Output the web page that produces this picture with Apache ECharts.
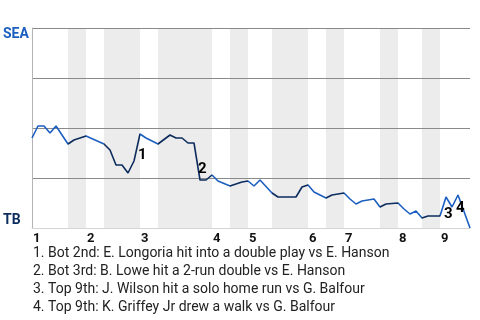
<!DOCTYPE html>
<html>
<head>
<meta charset="utf-8">
<script src="https://cdn.jsdelivr.net/npm/echarts@6/dist/echarts.min.js"></script>
<style>
  html, body { margin: 0; padding: 0; background: #fff; }
  #chart { width: 480px; height: 320px; }
</style>
</head>
<body>
<div id="chart"></div>
<script>
// plate appearance index and Seattle win probability after it
const paIndex = [0, 1, 2, 3, 4, 6, 7, 9, 12, 13, 14, 15, 16, 17, 18, 19, 21, 23, 24, 25, 26, 27, 28, 29, 30,
  31, 33, 35, 36, 37, 38, 40, 41, 44, 45, 46, 47, 49, 50, 52, 53, 54, 55, 57, 58, 59, 61, 62, 63, 64, 65, 66,
  68, 69, 70, 71, 73]
const seaWinProb = [0.45, 0.51, 0.51, 0.475, 0.51, 0.42, 0.44, 0.46, 0.42, 0.39, 0.315, 0.315, 0.275, 0.335,
  0.47, 0.45, 0.42, 0.465, 0.45, 0.45, 0.425, 0.425, 0.24, 0.24, 0.265, 0.235, 0.21, 0.23, 0.235, 0.21, 0.24,
  0.175, 0.155, 0.155, 0.205, 0.215, 0.18, 0.15, 0.165, 0.175, 0.145, 0.12, 0.135, 0.145, 0.105, 0.12, 0.125,
  0.095, 0.07, 0.085, 0.05, 0.06, 0.06, 0.155, 0.105, 0.165, 0]

// innings
const inningStart = [0, 9, 18, 30, 36, 46, 52, 61, 68]
const inningLabels = ['1', '2', '3', '4', '5', '6', '7', '8', '9']
const bottomStart = [6, 12, 21, 33, 40, 49, 58, 65]
const bottomEnd = [9, 18, 30, 36, 46, 52, 61, 68]
const lastPa = 73

// key plays
const notePa = [18, 28, 69, 71]
const noteTexts = [
  '1. Bot 2nd: E. Longoria hit into a double play vs E. Hanson',
  '2. Bot 3rd: B. Lowe hit a 2-run double vs E. Hanson',
  '3. Top 9th: J. Wilson hit a solo home run vs G. Balfour',
  '4. Top 9th: K. Griffey Jr drew a walk vs G. Balfour'
]

const seaColor = '#1c5fc0'
const tbColor = '#0d2c5e'
const font = 'Roboto, "Noto Sans", sans-serif'

const lineData = paIndex.map((x, i) => [x, seaWinProb[i]])

// label sits at the middle of the play's segment
const noteData = notePa.map((pa, i) => {
  const j = paIndex.indexOf(pa)
  return {
    name: String(i + 1),
    value: [(paIndex[j - 1] + pa) / 2, (seaWinProb[j - 1] + seaWinProb[j]) / 2]
  }
})

const chart = echarts.init(document.getElementById('chart'))

chart.setOption({
  animation: false,
  textStyle: { fontFamily: font },
  grid: { left: 32, right: 10, top: 28, bottom: 92 },
  xAxis: {
    type: 'value',
    min: 0,
    max: lastPa,
    z: 2,
    splitLine: { show: false },
    axisLine: { show: true, lineStyle: { color: '#d4d4d4', width: 1 } },
    axisTick: { show: false },
    axisLabel: {
      customValues: inningStart,
      formatter: v => inningLabels[inningStart.indexOf(v)] || '',
      align: 'left',
      margin: 4,
      padding: [0, 0, 0, 1],
      color: '#111',
      fontSize: 13,
      fontWeight: 'bold',
      fontFamily: font
    }
  },
  yAxis: {
    type: 'value',
    min: 0,
    max: 1,
    interval: 0.25,
    z: 2,
    splitLine: { show: true, lineStyle: { color: '#8a8a8a', width: 1 } },
    axisLine: { show: true, lineStyle: { color: '#b4b4b4', width: 1 } },
    axisTick: { show: false },
    axisLabel: {
      align: 'left',
      margin: 29,
      fontFamily: font,
      formatter: v => v === 1 ? '{sea|SEA}' : (v === 0 ? '{tb|TB}' : ''),
      rich: {
        sea: { color: seaColor, fontSize: 14, fontWeight: 'bold', padding: [12, 0, 0, 0] },
        tb: { color: tbColor, fontSize: 14, fontWeight: 'bold', padding: [0, 0, 16, 0] }
      }
    }
  },
  visualMap: {
    type: 'piecewise',
    show: false,
    dimension: 0,
    seriesIndex: 1,
    pieces: bottomStart.map((s, i) => ({ gte: s, lt: bottomEnd[i], color: tbColor })),
    outOfRange: { color: seaColor }
  },
  series: [
    {
      type: 'line',
      data: [],
      z: 1,
      markArea: {
        silent: true,
        itemStyle: { color: '#ececec' },
        data: bottomStart.map((s, i) => [{ xAxis: s }, { xAxis: bottomEnd[i] }])
      }
    },
    {
      type: 'line',
      data: lineData,
      z: 3,
      symbol: 'none',
      lineStyle: { width: 1.6 }
    },
    {
      type: 'scatter',
      data: noteData,
      z: 4,
      symbolSize: 0,
      itemStyle: { opacity: 1 },
      label: {
        show: true,
        formatter: p => p.name,
        position: [1, 0],
        color: '#000',
        textBorderWidth: 0,
        fontSize: 15,
        fontWeight: 'bold',
        fontFamily: font
      }
    }
  ],
  graphic: [{
    type: 'text',
    left: 33,
    top: 244,
    style: {
      text: noteTexts.join('\n'),
      fill: '#222',
      fontSize: 14,
      lineHeight: 18,
      fontFamily: font
    }
  }]
})
</script>
</body>
</html>
